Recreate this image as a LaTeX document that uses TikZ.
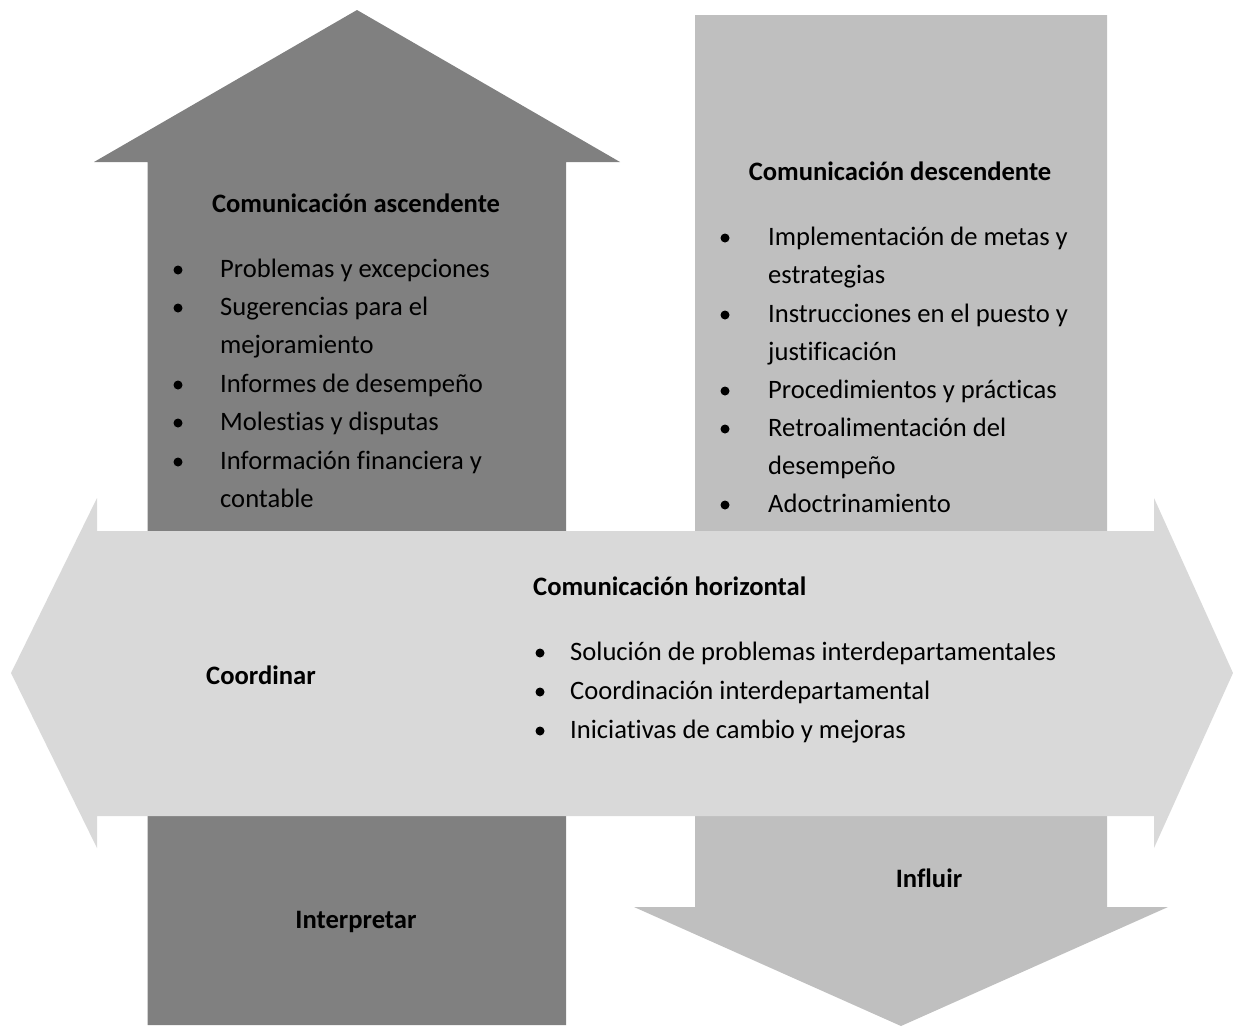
\documentclass[tikz,border=0pt]{standalone}
\usepackage{fontspec}
\setmainfont{Carlito}[Ligatures=NoCommon]
\definecolor{upgray}{HTML}{808080}
\definecolor{downgray}{HTML}{BFBFBF}
\definecolor{midgray}{HTML}{D9D9D9}
\tikzset{
  txt/.style={anchor=base west, inner sep=0pt, font=\fontsize{26.6}{31}\selectfont},
  hd/.style={inner sep=0pt, font=\fontsize{26.6}{31}\selectfont\bfseries},
  hdw/.style={hd, anchor=base west},
  hdc/.style={hd, anchor=base},
  dot/.style={circle, fill=black, inner sep=0pt, minimum size=9pt},
}
\begin{document}
\begin{tikzpicture}[x=1pt, y=-1pt]
\useasboundingbox (0,0) rectangle (1233,1026);

% upward arrow (dark)
\fill[upgray] (147.5,1025) -- (147.5,162) -- (94,162) -- (357,10) -- (620,162)
  -- (566,162) -- (566,1025) -- cycle;
% downward arrow (light)
\fill[downgray] (695,15) -- (1107,15) -- (1107,907) -- (1168,907) -- (901,1026)
  -- (634,907) -- (695,907) -- cycle;
% horizontal double arrow
\fill[midgray] (11,673) -- (97,498) -- (97,531) -- (1154,531) -- (1154,498)
  -- (1233,673) -- (1154,848) -- (1154,816) -- (97,816) -- (97,848) -- cycle;

% upward communication
\node[hdc] (uph) at (356,212) {Comunicación ascendente};
\node[dot] (ub1) at (178,270) {};
\node[txt] (u1) at (220,277) {Problemas y excepciones};
\node[dot] (ub2) at (178,308) {};
\node[txt] (u2) at (220,315) {Sugerencias para el};
\node[txt] (u2b) at (220,353) {mejoramiento};
\node[dot] (ub3) at (178,385) {};
\node[txt] (u3) at (220,392) {Informes de desempeño};
\node[dot] (ub4) at (178,423) {};
\node[txt] (u4) at (220,430) {Molestias y disputas};
\node[dot] (ub5) at (178,462) {};
\node[txt] (u5) at (220,469) {Información financiera y};
\node[txt] (u5b) at (220,507) {contable};

% downward communication
\node[hdc] (dnh) at (900,180) {Comunicación descendente};
\node[dot] (db1) at (725,238) {};
\node[txt] (d1) at (768,245) {Implementación de metas y};
\node[txt] (d1b) at (768,283) {estrategias};
\node[dot] (db2) at (725,315) {};
\node[txt] (d2) at (768,322) {Instrucciones en el puesto y};
\node[txt] (d2b) at (768,360) {justificación};
\node[dot] (db3) at (725,391) {};
\node[txt] (d3) at (768,398) {Procedimientos y prácticas};
\node[dot] (db4) at (725,429) {};
\node[txt] (d4) at (768,436) {Retroalimentación del};
\node[txt] (d4b) at (768,474) {desempeño};
\node[dot] (db5) at (725,505) {};
\node[txt] (d5) at (768,512) {Adoctrinamiento};

% horizontal communication
\node[hdw] (hh) at (533,595) {Comunicación horizontal};
\node[dot] (hb1) at (540,653) {};
\node[txt] (h1) at (570,660) {Solución de problemas interdepartamentales};
\node[dot] (hb2) at (540,692) {};
\node[txt] (h2) at (570,699) {Coordinación interdepartamental};
\node[dot] (hb3) at (540,731) {};
\node[txt] (h3) at (570,738) {Iniciativas de cambio y mejoras};

% purpose labels
\node[hdw] (coord) at (206,684) {Coordinar};
\node[hdc] (interp) at (356,928) {Interpretar};
\node[hdc] (infl) at (929,887) {Influir};
\end{tikzpicture}
\end{document}
